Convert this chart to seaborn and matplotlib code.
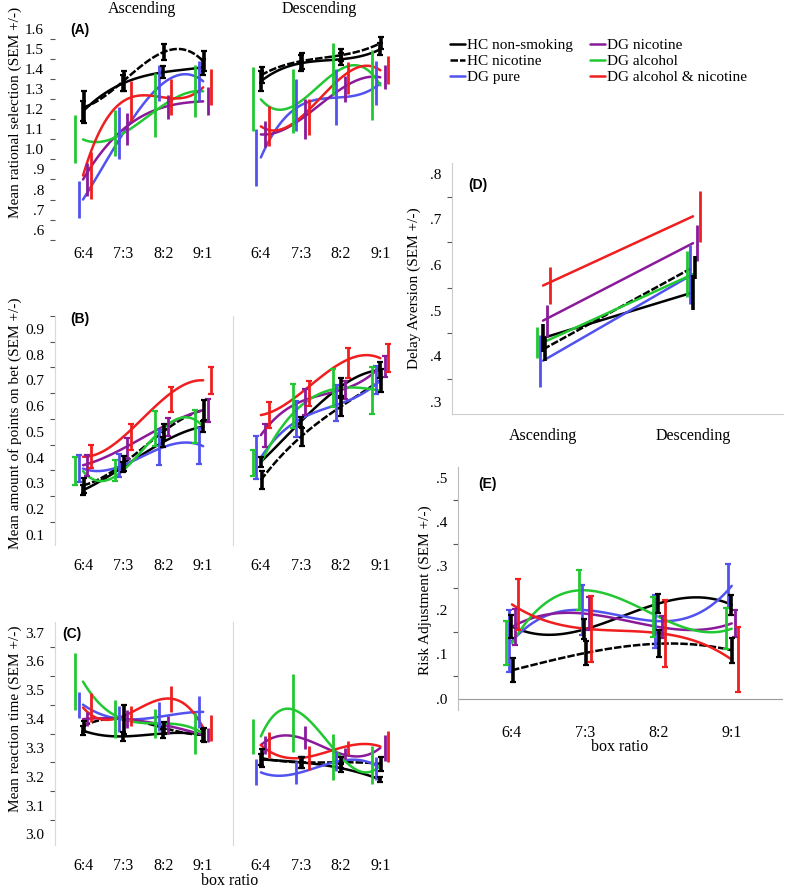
import numpy as np
import pandas as pd
import matplotlib
matplotlib.use('Agg')
import matplotlib.pyplot as plt
import seaborn as sns
from matplotlib.lines import Line2D
from matplotlib.ticker import MultipleLocator, FuncFormatter

# Gruppen und Farben
groups = ['HC non-smoking', 'HC nicotine', 'DG pure', 'DG nicotine', 'DG alcohol', 'DG alcohol & nicotine']
colors = ['#000000', '#000000', '#5252f0', '#8a1a9a', '#22c832', '#f01e1e']
ratios = ['6:4', '7:3', '8:2', '9:1']
directions = ['Ascending', 'Descending']

# (A) Mean rational selection - eine Zeile pro Gruppe
a_asc_mean = [[1.19, 1.33, 1.385, 1.41], [1.21, 1.34, 1.485, 1.44], [0.75, 1.08, 1.33, 1.34],
              [0.85, 1.10, 1.21, 1.24], [1.05, 1.08, 1.22, 1.29], [0.87, 1.24, 1.26, 1.31]]
a_asc_sem = [[0.05, 0.04, 0.03, 0.04], [0.08, 0.05, 0.04, 0.05], [0.09, 0.13, 0.09, 0.10],
             [0.08, 0.08, 0.06, 0.07], [0.12, 0.115, 0.16, 0.13], [0.115, 0.10, 0.09, 0.09]]
a_desc_mean = [[1.34, 1.43, 1.45, 1.50], [1.37, 1.44, 1.47, 1.53], [0.96, 1.22, 1.26, 1.33],
               [1.075, 1.15, 1.30, 1.36], [1.25, 1.24, 1.40, 1.32], [1.115, 1.16, 1.355, 1.395]]
a_desc_sem = [[0.05, 0.04, 0.03, 0.03], [0.04, 0.04, 0.03, 0.03], [0.14, 0.13, 0.14, 0.11],
              [0.065, 0.10, 0.065, 0.06], [0.16, 0.16, 0.13, 0.175], [0.10, 0.09, 0.08, 0.07]]

# (B) Mean amount of points on bet
b_asc_mean = [[0.273, 0.363, 0.46, 0.52], [0.292, 0.376, 0.50, 0.584], [0.357, 0.37, 0.44, 0.444],
              [0.37, 0.435, 0.52, 0.584], [0.347, 0.35, 0.513, 0.52], [0.403, 0.48, 0.626, 0.70]]
b_asc_sem = [[0.02, 0.02, 0.02, 0.02], [0.03, 0.03, 0.03, 0.04], [0.052, 0.045, 0.068, 0.071],
             [0.04, 0.04, 0.035, 0.045], [0.055, 0.042, 0.068, 0.065], [0.045, 0.05, 0.05, 0.052]]
b_desc_mean = [[0.383, 0.539, 0.675, 0.74], [0.312, 0.48, 0.597, 0.70], [0.40, 0.55, 0.61, 0.70],
               [0.487, 0.617, 0.662, 0.753], [0.38, 0.60, 0.67, 0.66], [0.565, 0.65, 0.766, 0.786]]
b_desc_sem = [[0.02, 0.02, 0.035, 0.03], [0.035, 0.035, 0.035, 0.045], [0.085, 0.07, 0.07, 0.055],
              [0.045, 0.05, 0.035, 0.04], [0.05, 0.085, 0.075, 0.09], [0.05, 0.049, 0.058, 0.055]]

# (C) Mean reaction time
c_asc_mean = [[3.36, 3.34, 3.35, 3.345], [3.375, 3.40, 3.37, 3.345], [3.45, 3.40, 3.41, 3.425],
              [3.40, 3.40, 3.38, 3.345], [3.53, 3.40, 3.385, 3.35], [3.44, 3.41, 3.47, 3.37]]
c_asc_sem = [[0.015, 0.015, 0.015, 0.02], [0.02, 0.05, 0.02, 0.025], [0.045, 0.045, 0.05, 0.055],
             [0.025, 0.03, 0.03, 0.025], [0.10, 0.065, 0.05, 0.07], [0.05, 0.035, 0.045, 0.045]]
c_desc_mean = [[3.26, 3.25, 3.23, 3.19], [3.265, 3.25, 3.25, 3.245], [3.215, 3.215, 3.255, 3.23],
               [3.31, 3.335, 3.28, 3.30], [3.34, 3.42, 3.27, 3.24], [3.31, 3.265, 3.30, 3.305]]
c_desc_sem = [[0.02, 0.02, 0.015, 0.01], [0.03, 0.02, 0.02, 0.025], [0.045, 0.04, 0.035, 0.04],
              [0.03, 0.04, 0.02, 0.045], [0.06, 0.135, 0.08, 0.065], [0.045, 0.04, 0.025, 0.055]]

# (D) Delay Aversion
d_mean = [[0.44, 0.54], [0.415, 0.595], [0.39, 0.58], [0.478, 0.648], [0.43, 0.58], [0.555, 0.707]]
d_sem = [[0.03, 0.038], [0.025, 0.025], [0.057, 0.065], [0.035, 0.04], [0.033, 0.05], [0.04, 0.056]]

# (E) Risk Adjustment
e_mean = [[0.163, 0.157, 0.215, 0.212], [0.064, 0.103, 0.124, 0.109], [0.13, 0.20, 0.175, 0.255],
          [0.162, 0.192, 0.162, 0.17], [0.125, 0.245, 0.185, 0.158], [0.213, 0.158, 0.148, 0.088]]
e_sem = [[0.025, 0.022, 0.021, 0.022], [0.027, 0.027, 0.03, 0.028], [0.07, 0.057, 0.06, 0.05],
         [0.04, 0.038, 0.025, 0.03], [0.05, 0.045, 0.045, 0.047], [0.057, 0.075, 0.076, 0.073]]

sns.set_style('white')
plt.rcParams['font.family'] = ['Liberation Serif', 'DejaVu Serif']
plt.rcParams['text.color'] = 'black'
plt.rcParams['xtick.color'] = '#555555'
plt.rcParams['ytick.color'] = '#555555'
plt.rcParams['xtick.labelcolor'] = 'black'
plt.rcParams['ytick.labelcolor'] = 'black'

W, H = 787, 891
fig = plt.figure(figsize=(W / 100, H / 100), dpi=100)


def add_ax(l, t, r, b):
    return fig.add_axes([l / W, 1 - b / H, (r - l) / W, (b - t) / H])


palette = dict(zip(groups, colors))
dash_map = {g: '' for g in groups}
dash_map['HC nicotine'] = (3, 0.8)
draw_order = [2, 3, 4, 5, 0, 1]


def draw_groups(ax, n, means, sems, shift, capsize, black_cap):
    xs = np.arange(n)
    parts = []
    for g, m in zip(groups, means):
        # glatte Kurve durch die Mittelwerte (wie SPSS-Interpolation)
        coef = np.polyfit(xs, m, n - 1)
        xx = np.linspace(0, n - 1, 80)
        parts.append(pd.DataFrame({'x': xx, 'y': np.polyval(coef, xx), 'group': g}))
    curves = pd.concat(parts, ignore_index=True)
    sns.lineplot(data=curves, x='x', y='y', hue='group', style='group', hue_order=groups,
                 style_order=groups, palette=palette, dashes=dash_map, estimator=None,
                 sort=False, lw=1.8, legend=False, ax=ax)
    for i in draw_order:
        black = colors[i] == '#000000'
        ax.errorbar(xs + shift[i], means[i], yerr=sems[i], fmt='none', ecolor=colors[i],
                    elinewidth=2.6 if black else 2.0,
                    capsize=black_cap if black else capsize, capthick=1.6)
    ax.set_xlabel('')
    ax.set_ylabel('')


def style_ax(ax, ylim, fmt, show_y, spine_color, outward):
    ax.set_ylim(*ylim)
    ax.yaxis.set_major_locator(MultipleLocator(0.1))
    ax.yaxis.set_minor_locator(MultipleLocator(0.05))
    ax.yaxis.set_major_formatter(FuncFormatter(fmt))
    ax.tick_params(axis='y', which='major', length=7, width=0.8, labelsize=11, pad=1)
    ax.tick_params(axis='y', which='minor', length=3.5, width=0.8, left=True)
    ax.tick_params(axis='x', length=7, width=0.8, labelsize=11.5, pad=2)
    for s in ['top', 'right', 'bottom']:
        ax.spines[s].set_visible(False)
    ax.spines['bottom'].set_position(('outward', outward))
    if spine_color is None:
        ax.spines['left'].set_visible(False)
    else:
        ax.spines['left'].set_color(spine_color)
        ax.spines['left'].set_linewidth(0.8)
    if not show_y:
        ax.tick_params(axis='y', which='both', left=False, labelleft=False)


def dot_fmt(v, pos):
    s = f'{v:.1f}'
    return s[1:] if s.startswith('0') else s


def plain_fmt(v, pos):
    return f'{v:.1f}'


def panel_tag(x, y, tag):
    fig.text(x / W, 1 - y / H, tag, family='Liberation Sans', fontweight='bold',
             fontsize=10, ha='left', va='center')


shift3 = [0.0, 0.025, -0.11, 0.11, -0.2, 0.2]
rows = [
    (a_asc_mean, a_asc_sem, a_desc_mean, a_desc_sem, 20, 240, (0.548, 1.646), dot_fmt, None, 0, 2.2, -5),
    (b_asc_mean, b_asc_sem, b_desc_mean, b_desc_sem, 316, 545, (0.06, 0.95), plain_fmt, '#d9d9d9', 2.2, 2.2, 0),
    (c_asc_mean, c_asc_sem, c_desc_mean, c_desc_sem, 622, 845, (2.963, 3.737), plain_fmt, '#d9d9d9', 0, 2.2, 0),
]
for am, asem, dm, dsem, top, bot, ylim, fmt, sc, cap, bcap, outw in rows:
    ax1 = add_ax(55, top, 228, bot)
    ax2 = add_ax(233, top, 405, bot)
    for ax, m, s, first in [(ax1, am, asem, True), (ax2, dm, dsem, False)]:
        draw_groups(ax, len(ratios), m, s, shift3, cap, bcap)
        ax.set_xlim(-0.7, 3.62)
        ax.set_xticks(range(len(ratios)), ratios)
        style_ax(ax, ylim, fmt, first, sc, outw)

panel_tag(70, 30, '(A)')
panel_tag(70, 319, '(B)')
panel_tag(62, 634, '(C)')
panel_tag(468, 185, '(D)')
panel_tag(478, 484, '(E)')

fig.text(141.5 / W, 1 - 9 / H, 'Ascending', ha='center', va='center', fontsize=11.5)
fig.text(319 / W, 1 - 9 / H, 'Descending', ha='center', va='center', fontsize=11.5)
fig.text(15 / W, 1 - 112 / H, 'Mean rational selection (SEM +/-)', rotation=90, ha='center', va='center', fontsize=11)
fig.text(15 / W, 1 - 423 / H, 'Mean amount of points on bet (SEM +/-)', rotation=90, ha='center', va='center', fontsize=11)
fig.text(15 / W, 1 - 719 / H, 'Mean reaction time (SEM +/-)', rotation=90, ha='center', va='center', fontsize=11)
fig.text(230 / W, 1 - 881 / H, 'box ratio', ha='center', va='center', fontsize=11.5)

# (D)
axd = add_ax(452, 163, 783, 414)
draw_groups(axd, len(directions), d_mean, d_sem, [0.0, 0.01, -0.02, 0.025, -0.04, 0.047], 0, 0)
axd.set_xlim(-0.607, 1.6)
axd.set_xticks(range(len(directions)), directions)
style_ax(axd, (0.273, 0.824), dot_fmt, True, '#cccccc', 0)
axd.spines['bottom'].set_visible(True)
axd.spines['bottom'].set_color('#cccccc')
axd.tick_params(axis='x', length=7, pad=3)
fig.text(414 / W, 1 - 288 / H, 'Delay Aversion (SEM +/-)', rotation=90, ha='center', va='center', fontsize=11)

# (E)
axe = add_ax(458, 467, 783, 710)
draw_groups(axe, len(ratios), e_mean, e_sem, [-0.01, 0.01, -0.045, 0.045, -0.08, 0.085], 2.2, 2.2)
axe.set_xlim(-0.737, 3.70)
axe.set_xticks(range(len(ratios)), ratios)
style_ax(axe, (-0.026, 0.524), dot_fmt, True, '#bbbbbb', 2)
axe.axhline(0, color='#999999', lw=0.8)
fig.text(425 / W, 1 - 590 / H, 'Risk Adjustment (SEM +/-)', rotation=90, ha='center', va='center', fontsize=11)
fig.text(620 / W, 1 - 747 / H, 'box ratio', ha='center', va='center', fontsize=11.5)

# Legende
handles = [Line2D([], [], color=c, lw=1.8, dashes=(3, 0.8) if g == 'HC nicotine' else (None, None))
           for g, c in zip(groups, colors)]
fig.legend(handles, groups, loc='upper left', bbox_to_anchor=(442 / W, 1 - 31 / H), ncol=2,
           frameon=False, fontsize=11, handlelength=1.0, handletextpad=0.15,
           columnspacing=1.1, labelspacing=0.15, borderpad=0)

fig.savefig('out.png', dpi=100)
